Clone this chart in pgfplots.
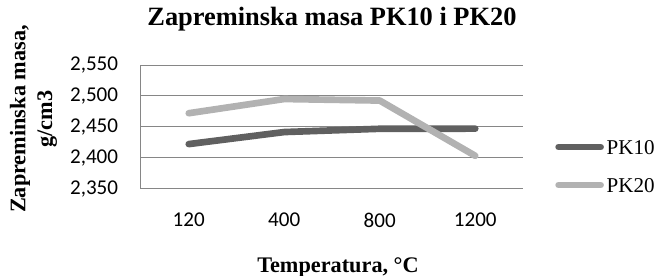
\documentclass[border=0pt]{standalone}
\usepackage{fontspec}
\setmainfont{Liberation Serif}
\newfontfamily\calibri{Carlito}
\usepackage{pgfplots}
\pgfplotsset{compat=1.18}
\definecolor{pkdark}{RGB}{96,96,96}
\definecolor{pklight}{RGB}{178,178,178}
\definecolor{gridc}{RGB}{134,134,134}
\begin{document}
\begin{tikzpicture}
\begin{axis}[
 scale only axis, width=286.5pt, height=92.6pt,
 xmin=-0.5, xmax=3.5, ymin=2.35, ymax=2.55,
 xtick={0,1,2,3}, xticklabels={120,400,800,1200},
 ytick={2.35,2.4,2.45,2.5,2.55},
 major tick length=0pt,
 axis x line*=bottom, axis y line*=left,
 axis line style={-, draw=gridc, line width=0.75pt},
 ymajorgrids, grid style={draw=gridc, line width=0.75pt},
 /pgf/number format/assume math mode=true,
 ticklabel style={font=\calibri\fontsize{15.8}{18}\selectfont},
 yticklabel style={/pgf/number format/fixed, /pgf/number format/fixed zerofill, /pgf/number format/precision=3, /pgf/number format/use comma, anchor=east, inner sep=0pt, xshift=-17pt},
 xticklabel style={anchor=north, inner sep=0pt, yshift=-18pt},
 title={Zapreminska masa PK10 i PK20},
 title style={font=\bfseries\fontsize{19.8}{24}\selectfont, at={(axis description cs:0.5,1)}, anchor=base, yshift=24pt, inner sep=0pt},
 xlabel={Temperatura, °C},
 xlabel style={font=\bfseries\fontsize{16.7}{20}\selectfont, at={(axis description cs:0.5,0)}, anchor=center, xshift=4.5pt, yshift=-59pt},
 ylabel={Zapreminska masa,\\g/cm3},
 ylabel style={font=\bfseries\fontsize{16.7}{20}\selectfont, align=center, at={(axis description cs:-0.2813,0.5627)}, anchor=center},
 legend style={draw=none, fill=none, at={(axis description cs:1.0838,0.182)}, anchor=west, inner sep=0pt, row sep=13.5pt, nodes={inner sep=2pt, text height=11pt, text depth=0pt, font=\fontsize{15.8}{18}\selectfont}},
 legend cell align=left,
 legend image code/.code={\draw[#1, line cap=round] (0pt,0pt) -- (31.5pt,0pt);},
]
\addplot[pkdark, line width=5pt, line cap=round, line join=round] coordinates {(0,2.422) (1,2.4415) (2,2.4468) (3,2.447)};
\addlegendentry{PK10}
\addplot[pklight, line width=5pt, line cap=round, line join=round] coordinates {(0,2.472) (1,2.495) (2,2.4925) (3,2.403)};
\addlegendentry{PK20}
\end{axis}
\pgfresetboundingbox
\path[use as bounding box] (-105.75pt,-64.9pt) rectangle (388.5pt,141.4pt);
\end{tikzpicture}
\end{document}
